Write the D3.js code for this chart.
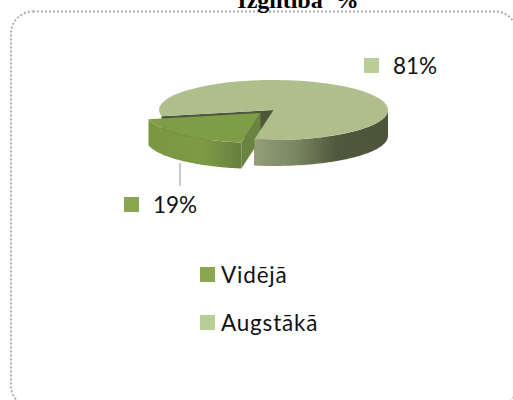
<!DOCTYPE html>
<html>
<head>
<meta charset="utf-8">
<script src="https://cdn.jsdelivr.net/npm/d3@7"></script>
<style>
  html, body { margin: 0; padding: 0; background: #fff; overflow: hidden; }
  svg { display: block; }
</style>
</head>
<body>
<svg id="chart" width="513" height="400"></svg>
<script>
const categories = ["Vidējā", "Augstākā"];
const values = [19, 81];
const valueLabels = ["19%", "81%"];
const chartTitle = "Izglītība  %";

const width = 513, height = 400;
const cx = 273.5, cy = 110;      // centre of the pie top
const rx = 114.5, ry = 30;
const depth = 26;
const explode = { x: -13, y: 3 };  // how far the small slice is pulled out

const colors = ["#7f9c47", "#aebf8c"];
const legendColors = ["#8ba651", "#b9cd96"];
const labelFont = "Lato, 'Open Sans', sans-serif";

const svg = d3.select("#chart");
const defs = svg.append("defs");

function addGradient(id, x1, x2, stops) {
  const g = defs.append("linearGradient")
    .attr("id", id)
    .attr("gradientUnits", "userSpaceOnUse")
    .attr("x1", x1).attr("x2", x2).attr("y1", 0).attr("y2", 0);
  stops.forEach(s => g.append("stop").attr("offset", s[0]).attr("stop-color", s[1]));
}
addGradient("wallBig", 255, 388, [[0, "#929e78"], [0.3, "#7b8762"], [0.62, "#4f583c"], [1, "#4c553a"]]);
addGradient("wallSmall", 148, 241, [[0, "#7a963f"], [0.6, "#7e9a45"], [1, "#687f3e"]]);

// same angles d3.pie gives, 0 = 12 o'clock, clockwise
const pie = d3.pie().value(d => d).sort(null)
  .startAngle(189.6 * Math.PI / 180)
  .endAngle((189.6 + 360) * Math.PI / 180);
const slices = pie(values);

const px = (a, ox) => ox + rx * Math.sin(a);
const py = (a, oy) => oy - ry * Math.cos(a);

// outer wall of a slice, only the part facing the viewer
function wallPath(a0, a1, ox, oy) {
  const from = Math.max(a0, Math.PI / 2);
  const to = Math.min(a1, Math.PI * 1.5);
  const p = d3.path();
  const steps = 60;
  for (let i = 0; i <= steps; i++) {
    const a = from + (to - from) * i / steps;
    if (i === 0) p.moveTo(px(a, ox), py(a, oy)); else p.lineTo(px(a, ox), py(a, oy));
  }
  for (let i = steps; i >= 0; i--) {
    const a = from + (to - from) * i / steps;
    p.lineTo(px(a, ox), py(a, oy) + depth);
  }
  p.closePath();
  return p.toString();
}

function radialFace(a, ox, oy) {
  const p = d3.path();
  p.moveTo(ox, oy);
  p.lineTo(px(a, ox), py(a, oy));
  p.lineTo(px(a, ox), py(a, oy) + depth);
  p.lineTo(ox, oy + depth);
  p.closePath();
  return p.toString();
}

const unitArc = d3.arc().innerRadius(0).outerRadius(1);
const topSlice = (d, ox, oy, fill) => svg.append("path")
  .attr("d", unitArc(d))
  .attr("transform", `translate(${ox},${oy}) scale(${rx},${ry})`)
  .attr("fill", fill);

const small = slices[0], big = slices[1];
const sx = cx + explode.x, sy = cy + explode.y;

// border, runs off the right and bottom of the picture
svg.append("rect")
  .attr("x", 11).attr("y", 11.5)
  .attr("width", 506).attr("height", 396)
  .attr("rx", 22).attr("ry", 22)
  .attr("fill", "none")
  .attr("stroke", "#adadad")
  .attr("stroke-width", 2)
  .attr("stroke-dasharray", "2 2");

// title, cut by the top of the picture
svg.append("text")
  .attr("x", 298).attr("y", 8)
  .attr("text-anchor", "middle")
  .attr("font-family", "'Liberation Serif', serif")
  .attr("font-weight", "bold")
  .attr("font-size", 24)
  .attr("fill", "#000")
  .attr("xml:space", "preserve")
  .text(chartTitle);

// inner faces of the big slice, seen through the gap
svg.append("path").attr("d", radialFace(big.startAngle, cx, cy)).attr("fill", "#4e573b");
svg.append("path").attr("d", radialFace(big.endAngle, cx, cy)).attr("fill", "#4e573b");

// pulled out slice
svg.append("path").attr("d", wallPath(small.startAngle, small.endAngle, sx, sy)).attr("fill", "url(#wallSmall)");
svg.append("path").attr("d", radialFace(small.startAngle, sx, sy)).attr("fill", "#6b8340");
topSlice(small, sx, sy, colors[0]);

// big slice
svg.append("path")
  .attr("d", wallPath(big.startAngle - 2 * Math.PI, big.endAngle - 2 * Math.PI, cx, cy))
  .attr("fill", "url(#wallBig)");
topSlice(big, cx, cy, colors[1]);

// leader line
svg.append("line")
  .attr("x1", 180).attr("x2", 180)
  .attr("y1", 163).attr("y2", 186)
  .attr("stroke", "#a6a6a6").attr("stroke-width", 1.2);

// data labels with their colour keys
const labelPos = [{ x: 124, y: 197 }, { x: 364, y: 58 }];
labelPos.forEach((pos, i) => {
  svg.append("rect")
    .attr("x", pos.x).attr("y", pos.y)
    .attr("width", 15).attr("height", 15)
    .attr("fill", legendColors[i]);
  svg.append("text")
    .attr("x", pos.x + 29).attr("y", pos.y + 16)
    .attr("font-family", labelFont)
    .attr("font-size", 22.5)
    .attr("fill", "#111")
    .text(valueLabels[i]);
});

// legend
const legendY = d3.scalePoint().domain(categories).range([267, 315]);
categories.forEach((c, i) => {
  svg.append("rect")
    .attr("x", 200).attr("y", legendY(c))
    .attr("width", 15).attr("height", 15)
    .attr("fill", legendColors[i]);
  svg.append("text")
    .attr("x", 221).attr("y", legendY(c) + 15.5)
    .attr("font-family", labelFont)
    .attr("font-size", 22.5)
    .attr("letter-spacing", 0.8)
    .attr("fill", "#111")
    .text(c);
});
</script>
</body>
</html>
